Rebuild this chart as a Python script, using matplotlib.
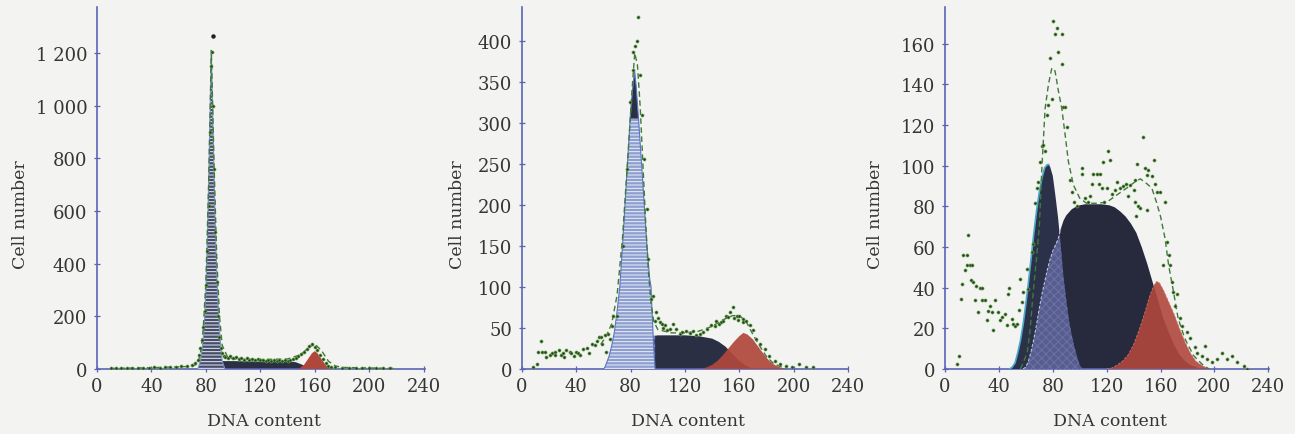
import numpy as np
import matplotlib
matplotlib.use("Agg")
import matplotlib.pyplot as plt

plt.rcParams['font.family'] = ['DejaVu Serif']
plt.rcParams['hatch.linewidth'] = 0.7

# ---------------- data ----------------
x_ticks = [0, 40, 80, 120, 160, 200, 240]
x_label = "DNA content"
y_label = "Cell number"

p1_yticks = [0, 200, 400, 600, 800, 1000, 1200]
p1_yticklabels = ["0", "200", "400", "600", "800", "1 000", "1 200"]
p2_yticks = [0, 50, 100, 150, 200, 250, 300, 350, 400]
p2_yticklabels = ["0", "50", "100", "150", "200", "250", "300", "350", "400"]
p3_yticks = [0, 20, 40, 60, 80, 100, 120, 140, 160]
p3_yticklabels = ["0", "20", "40", "60", "80", "100", "120", "140", "160"]

# ---- panel 1 ----
p1_g1_x = [74, 76, 78, 79, 80, 81, 82, 83, 84, 85, 86, 87, 88, 89, 90, 91, 92, 94]
p1_g1_y = [0, 30, 110, 190, 300, 470, 700, 960, 1200, 980, 740, 520, 360, 240, 150, 80, 30, 0]
p1_s_x = [80, 84, 88, 92, 100, 120, 140, 146, 150, 154, 158]
p1_s_y = [0, 10, 25, 30, 30, 28, 28, 26, 18, 8, 0]
p1_g2_x = [148, 152, 156, 158, 160, 162, 164, 168, 172]
p1_g2_y = [0, 15, 45, 60, 68, 60, 45, 15, 0]
p1_fit_x = [10, 40, 70, 74, 76, 78, 80, 82, 84, 86, 88, 90, 92, 96, 100, 120, 140, 150, 155, 160, 165, 170, 175, 180, 200, 220]
p1_fit_y = [2, 5, 10, 20, 60, 150, 330, 700, 1210, 780, 420, 200, 90, 45, 38, 36, 38, 55, 80, 95, 70, 30, 12, 6, 4, 2]
p1_dot_x = [10, 14, 18, 22, 26, 30, 34, 38, 42, 46, 50, 54, 58, 62, 66, 70, 72, 74, 75,
            76, 77, 78, 79, 80, 81, 82, 83, 84, 84.5, 85, 86, 87, 88, 89, 90, 91, 92, 93, 94,
            96, 98, 100, 102, 104, 106, 108, 110, 112, 114, 116, 118, 120, 122, 124, 126, 128,
            130, 132, 134, 136, 138, 140, 142, 144, 146, 148, 150, 152, 154, 156, 158, 160, 162,
            164, 166, 168, 170, 172, 175, 180, 185, 190, 195, 200, 205, 210, 215]
p1_dot_y = [2, 3, 2, 3, 4, 3, 5, 4, 6, 5, 8, 7, 9, 10, 12, 15, 22, 35, 55,
            80, 110, 160, 220, 320, 450, 620, 900, 1150, 1205, 1000, 760, 520, 330, 200, 120, 80, 60, 50, 45,
            42, 48, 40, 44, 38, 41, 36, 40, 35, 38, 33, 37, 34, 36, 32, 35, 31,
            34, 30, 33, 31, 34, 32, 36, 38, 42, 50, 58, 66, 75, 88, 96, 85, 72,
            55, 38, 22, 12, 8, 6, 5, 4, 5, 3, 4, 3, 2, 2]
p1_top_dot = (85, 1265)

# ---- panel 2 ----
p2_g1_x = [60, 61, 64, 66, 68, 70, 72, 74, 76, 78, 80, 82, 83, 84, 86, 88, 90, 92, 94, 95, 96, 97, 98]
p2_g1_y = [0, 2, 15, 28, 45, 70, 100, 150, 205, 260, 315, 350, 362, 345, 300, 250, 200, 150, 110, 100, 60, 25, 0]
p2_s_x = [68, 72, 76, 80, 84, 88, 92, 96, 100, 110, 120, 130, 140, 145, 150, 155, 160, 165, 170]
p2_s_y = [0, 3, 8, 15, 24, 32, 37, 40, 41, 41, 41, 40, 37, 33, 27, 18, 10, 4, 0]
p2_g2_x = [132, 136, 140, 144, 148, 152, 156, 160, 163, 166, 170, 174, 178, 182, 186, 190, 194]
p2_g2_y = [0, 2, 5, 10, 17, 25, 33, 40, 44, 42, 36, 27, 18, 10, 5, 2, 0]
p2_fit_x = [58, 62, 66, 70, 74, 78, 81, 83, 85, 87, 89, 91, 93, 95, 97, 100, 110, 120, 130, 140,
            148, 155, 160, 165, 170, 175, 180, 185, 190, 195]
p2_fit_y = [30, 40, 55, 90, 160, 260, 340, 385, 370, 320, 250, 180, 120, 80, 58, 48, 44, 44, 46, 52,
            60, 65, 65, 58, 42, 28, 15, 7, 3, 1]
p2_dot_x = [8.3, 11, 12, 14, 15, 17, 18, 20.6, 21.8, 24, 24.5, 27, 28.5, 30, 31, 32.5, 35, 36, 38, 40,
            41.5, 43, 45, 47.6, 49, 51.5, 54, 55, 56.5, 58, 59, 61, 62, 63.5, 64.7, 66, 67, 69.6,
            74.6, 77, 79.4, 81.4, 82, 83, 84.3, 85.5, 86.8, 88, 89.7, 91.7, 92.9, 95.3, 96.6, 97.8,
            99, 100, 101.5, 103, 104, 105, 107, 109, 111, 113.7, 116, 118, 121, 124, 126, 128, 131,
            133, 136, 139.5, 142, 143, 145, 146.8, 148, 150.5, 152, 153, 155, 156, 158, 159, 160,
            162.7, 163, 165, 167.6, 170, 172.5, 175, 178.7, 182, 186, 190, 194.6, 199, 204, 209, 214]
p2_dot_y = [2, 6, 21, 34, 21, 21, 15, 17, 19, 21, 17, 23, 17, 19, 15, 23, 21, 19, 16, 21,
            19, 17, 24, 25, 19, 31, 29, 34, 39, 39, 31, 41, 21, 43, 37, 52, 64, 65,
            150, 244, 325, 364, 386, 394, 400, 429, 358, 309, 256, 195, 134, 85, 89, 59,
            69, 62, 57, 55, 50, 53, 48, 49, 55, 49, 43, 45, 46, 44, 46, 42, 43,
            45, 49, 53, 52, 59, 55, 57, 58, 65, 63, 69, 75, 62, 65, 60, 65,
            61, 57, 59, 53, 47, 37, 30, 24, 16, 10, 6, 4, 3, 6, 3, 2]

# ---- panel 3 ----
p3_g1_x = [48, 50, 52, 54, 56, 58, 60, 62, 64, 66, 68, 70, 72, 74, 76, 77, 78, 80, 82, 84, 86,
           88, 90, 92, 94, 96, 98, 100, 102]
p3_g1_y = [0, 1, 3, 8, 14, 22, 32, 43, 55, 67, 78, 87, 94, 99, 100.5, 100.5, 99.5, 95, 85, 74, 60,
           45, 34, 24, 17, 11, 6, 2, 0]
p3_s_x = [58, 60, 62, 64, 66, 68, 70, 72, 74, 76, 78, 80, 82, 84, 86, 88, 90, 92, 94, 96, 98, 100,
          104, 110, 116, 122, 126, 130, 134, 138, 142, 146, 150, 154, 158, 162, 166, 170, 174, 178,
          182, 186, 190]
p3_s_y = [0, 1, 4, 9, 15, 22, 30, 37, 43, 49, 54, 58, 61, 64, 69, 73, 75.5, 77, 78.5, 79.3, 80, 80.5,
          81, 81, 81, 80.5, 79.5, 77.5, 75, 71.5, 67, 60, 52, 43, 34, 25, 18, 12, 7, 4,
          2, 1, 0]
p3_g2_x = [120, 124, 128, 132, 136, 140, 144, 148, 152, 155, 157, 159, 162, 166, 170, 174, 178, 182,
           186, 190, 194, 198]
p3_g2_y = [0, 0.5, 2, 4, 7, 12, 19, 27, 36, 41, 43, 42.5, 39, 33, 27, 20, 13.5, 8, 4, 2, 0.5, 0]
p3_fit_x = [56, 58, 61, 63, 65.5, 68, 70, 72, 74.3, 76.8, 79.3, 81.7, 84.2, 86.7, 89.2, 91.6, 95.3,
            100, 105, 112, 120, 127.6, 135, 141, 145, 150, 153.5, 157, 160, 163.4, 166, 169.6,
            173, 178, 184.5, 192, 196]
p3_fit_y = [0, 3, 8, 18, 38, 55, 70, 100, 128, 140, 148, 146.5, 136.6, 128, 115, 102, 90.5,
            84, 81.5, 81.5, 82, 85.6, 89, 92, 93.5, 91, 89, 82, 75, 64, 51, 38,
            25, 15, 6.6, 1.6, 0]
p3_dot_x = [8.7, 10.7, 11.6, 12.4, 13.6, 14.9, 16, 16, 17.3, 18.6, 19, 20, 21, 22.3, 23, 24.8, 26,
            27.3, 27.7, 29.7, 31, 32, 33.4, 34.7, 35.4, 37, 39.6, 40.9, 42, 44.6, 45.8, 47, 47.2,
            49.5, 50.4, 52, 53.3, 55.2, 55.7, 57, 58.2, 61, 61.9, 64.4, 65.6, 66.9, 68, 69.3, 70.6,
            71.8, 73, 74.3, 75.5, 76.8, 78, 79.3, 80.5, 81.7, 83, 84.2, 86.7, 86.7, 87.9, 89, 90.4,
            92.9, 94, 96, 98, 101.5, 101.5, 104, 106, 108, 109, 110, 112.7, 114, 115, 116.4, 117.6,
            118, 120, 121, 122.6, 124, 126, 127.6, 130, 132, 134, 136, 137.4, 140, 141, 141, 142,
            142.4, 143.6, 145, 147.3, 148.5, 149.8, 149.8, 151, 153.5, 154.8, 156, 157, 159.7, 162,
            163.4, 164.7, 166, 167, 168.4, 169.6, 171, 172, 174.6, 176, 179.5, 182, 185.7, 187,
            190.7, 193, 194.4, 198, 202, 205.6, 209, 213, 216.7, 221.6, 224]
p3_dot_y = [2.5, 6.6, 34.6, 42, 56, 48.5, 51, 56, 66, 51, 43.6, 51, 43, 33.7, 41, 28, 40,
            33.7, 40, 33.7, 24, 28.6, 31, 28, 19, 33.7, 28, 24, 25.5, 27, 21.4, 37, 40,
            24.7, 22, 21, 22, 28.8, 44.4, 33, 38, 49, 39.5, 57.6, 61.7, 81.5, 89, 92, 102,
            109.5, 110, 107, 125, 130, 153, 133, 171, 164.6, 167.6, 156, 164.6, 150, 129, 129, 119,
            93, 87, 82, 80, 99, 96, 84, 82, 85, 91, 96, 96, 91, 96, 89, 102,
            82, 89, 107, 103, 86, 88, 92, 89, 90, 91, 85, 90.5, 88, 93, 82, 75,
            101, 80, 79, 114, 99, 95.5, 78, 98, 95, 103, 91, 87, 87, 51,
            82, 62.5, 56, 51, 43, 38, 31, 37, 25, 21, 18, 15, 10.7, 8,
            6.6, 11.5, 5, 3.3, 4.9, 8, 5, 6.6, 3.3, 1.6, 0]

# ---------------- style ----------------
BG = '#f3f3f1'
AXC = '#5b63b5'
TXT = '#353535'
NAVY = '#2a2f44'
BLUE_LIGHT = '#8d9fd0'
PURPLE = '#585d90'
RED = '#b0473c'
FIT = '#3f7a3a'


def area(ax, x, y, **kw):
    """Closed polygon between the curve (x, y) and the baseline."""
    x = np.asarray(x, float)
    y = np.asarray(y, float)
    px = np.concatenate([x, x[::-1]])
    py = np.concatenate([y, np.zeros_like(y)])
    return ax.fill(px, py, **kw)


fig = plt.figure(figsize=(12.95, 4.35), dpi=100, facecolor=BG)

panels = [
    dict(pos=[97/1295, 65/435, 328/1295, 362/435], ylim=1375, xlim=241,
         yt=p1_yticks, ytl=p1_yticklabels, ylab_x=-0.207,
         g1=(p1_g1_x, p1_g1_y), s=(p1_s_x, p1_s_y), g2=(p1_g2_x, p1_g2_y),
         fit=(p1_fit_x, p1_fit_y), dots=(p1_dot_x, p1_dot_y), kind=1),
    dict(pos=[522/1295, 65/435, 326/1295, 362/435], ylim=441, xlim=240,
         yt=p2_yticks, ytl=p2_yticklabels, ylab_x=-0.172,
         g1=(p2_g1_x, p2_g1_y), s=(p2_s_x, p2_s_y), g2=(p2_g2_x, p2_g2_y),
         fit=(p2_fit_x, p2_fit_y), dots=(p2_dot_x, p2_dot_y), kind=2),
    dict(pos=[945/1295, 65/435, 324/1295, 362/435], ylim=178, xlim=240.5,
         yt=p3_yticks, ytl=p3_yticklabels, ylab_x=-0.188,
         g1=(p3_g1_x, p3_g1_y), s=(p3_s_x, p3_s_y), g2=(p3_g2_x, p3_g2_y),
         fit=(p3_fit_x, p3_fit_y), dots=(p3_dot_x, p3_dot_y), kind=3),
]

for p in panels:
    ax = fig.add_axes(p['pos'])
    ax.set_facecolor(BG)
    kind = p['kind']
    g1x, g1y = np.array(p['g1'][0], float), np.array(p['g1'][1], float)
    sx, sy = np.array(p['s'][0], float), np.array(p['s'][1], float)
    g2x, g2y = np.array(p['g2'][0], float), np.array(p['g2'][1], float)

    grid = np.arange(min(g1x[0], sx[0]), g1x[-1] + 0.25, 0.25)
    g1i = np.interp(grid, g1x, g1y, left=0, right=0)
    si = np.interp(grid, sx, sy, left=0, right=0)
    ov = np.minimum(g1i, si)

    if kind == 1:
        area(ax, sx, sy, facecolor=NAVY, edgecolor='none', zorder=2)
        area(ax, g1x, g1y, facecolor='#454d6a', edgecolor='#e8ebf4',
             hatch='-----', linewidth=0, zorder=3)
        ax.plot(g1x, g1y, color='#7d93c8', lw=0.8, zorder=3.5)
        area(ax, g2x, g2y, facecolor=RED, edgecolor='none', zorder=4)
    elif kind == 2:
        area(ax, sx, sy, facecolor=NAVY, edgecolor='none', zorder=2)
        band = (grid >= 86) & (grid <= 102)
        area(ax, grid[band], si[band], facecolor='#4b5792', edgecolor='#8290c8',
             hatch='xxxx', linewidth=0, zorder=2.5)
        area(ax, g1x, g1y, facecolor=BLUE_LIGHT, edgecolor='#eef0f8',
             hatch='-----', linewidth=0, zorder=3)
        ax.fill_between(g1x, 305, g1y, where=g1y > 305, interpolate=True,
                        facecolor=NAVY, edgecolor='none', zorder=3.2)
        ax.plot(g1x, g1y, color='#5c74c0', lw=0.8, zorder=3.3)
        area(ax, g2x, g2y, facecolor=RED, edgecolor='none', alpha=0.92, zorder=4)
    else:
        area(ax, sx, sy, facecolor='#262a3c', edgecolor='none', zorder=2)
        area(ax, g1x, g1y, facecolor='#2b3148', edgecolor='none', zorder=3)
        ax.plot(g1x[g1x <= 77], g1y[g1x <= 77], color='#4ea7cc', lw=1.2, zorder=3.3)
        area(ax, grid, ov, facecolor=PURPLE, edgecolor='#6d72a6',
             hatch='xxxx', linewidth=0, zorder=3.5)
        m = sx <= 86
        ax.plot(sx[m], sy[m], color='#c9cde6', lw=0.7, ls=(0, (3, 2)), zorder=3.6)
        area(ax, g2x, g2y, facecolor=RED, edgecolor='none', alpha=0.9, zorder=4)
        ax.plot(g2x, g2y, color='#d0706a', lw=0.6, ls=(0, (3, 2)), zorder=4.1)

    fx, fy = p['fit']
    ax.plot(fx, fy, color=FIT, lw=1.0, ls=(0, (4, 2.5)), zorder=5)
    dx, dy = p['dots']
    ax.plot(dx, dy, ls='none', marker='o', ms=2.2, mfc='#263f20', mec='#63a04a',
            mew=0.5, zorder=6)
    if kind == 1:
        ax.plot([p1_top_dot[0]], [p1_top_dot[1]], ls='none', marker='o', ms=2.2,
                color='#202020', zorder=6)

    ax.set_xlim(0, p['xlim'])
    ax.set_ylim(0, p['ylim'])
    ax.set_xticks(x_ticks)
    ax.set_xticklabels([str(v) for v in x_ticks])
    ax.set_yticks(p['yt'])
    ax.set_yticklabels(p['ytl'])
    for side in ['top', 'right']:
        ax.spines[side].set_visible(False)
    for side in ['left', 'bottom']:
        ax.spines[side].set_color(AXC)
        ax.spines[side].set_linewidth(1.2)
    ax.tick_params(axis='both', colors=AXC, direction='inout', length=4, width=0.9,
                   labelsize=13, labelcolor=TXT)
    ax.tick_params(axis='x', pad=4)
    ax.tick_params(axis='y', pad=5)
    ax.set_xlabel(x_label, fontsize=12.5, color=TXT)
    ax.set_ylabel(y_label, fontsize=12.5, color=TXT)
    ax.xaxis.set_label_coords(0.51, -0.119)
    ax.yaxis.set_label_coords(p['ylab_x'], 0.43)

fig.savefig('out.png', dpi=100, facecolor=BG)
